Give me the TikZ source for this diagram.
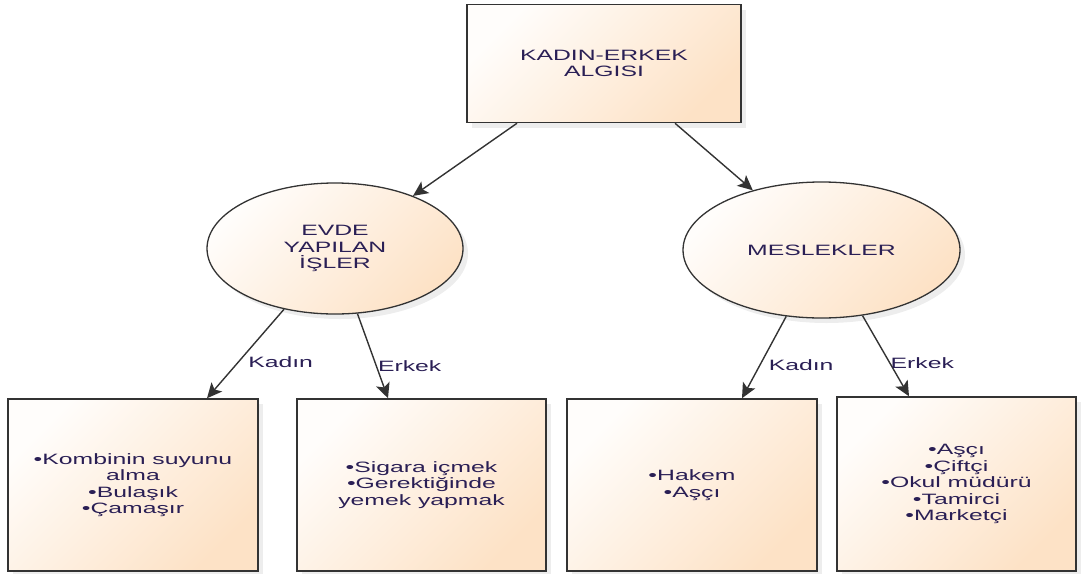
\documentclass[tikz,border=0pt]{standalone}
\usepackage{fontspec}
\setmainfont[FakeStretch=1.65]{Liberation Sans}
\usetikzlibrary{arrows.meta,positioning,shapes.geometric,shadows}
\definecolor{kaPeach}{HTML}{FDE2C6}
\definecolor{kaCream}{HTML}{FFFDFB}
\definecolor{kaInk}{HTML}{2A1F55}
\definecolor{kaLine}{HTML}{333333}
\tikzset{
  kaArrow/.style={-{Stealth[length=15pt,width=14pt,inset=3.5pt]}, line width=1.4pt, draw=kaLine},
  kaShade/.style={
    top color=kaCream,
    bottom color=kaPeach,
    shading angle=45,
    drop shadow={shadow xshift=5pt, shadow yshift=-5pt, fill=black, opacity=0.07}
  },
  kaBox/.style={
    rectangle,
    kaShade,
    draw=kaLine,
    line width=1.5pt,
    align=center,
    text=kaInk,
    inner sep=0pt
  },
  kaOval/.style={
    ellipse,
    kaShade,
    draw=kaLine,
    line width=1.3pt,
    align=center,
    text=kaInk,
    inner sep=0pt
  },
  kaLabel/.style={text=kaInk, inner sep=0pt, anchor=west}
}
\begin{document}
\begin{tikzpicture}[x=1pt, y=1pt, font=\fontsize{15}{16.5}\selectfont]
  \useasboundingbox (0,0) rectangle (1081,-573);

  % top level
  \node[kaBox, minimum width=274, minimum height=118] (algi) at (604,-63.5) {KADIN-ERKEK\\ALGISI};

  % second level
  \node[kaOval, minimum width=256, minimum height=131] (evde) at (335,-248.5) {EVDE\\YAPILAN\\İŞLER};
  \node[kaOval, minimum width=277, minimum height=136] (meslek) at (821.5,-250) {MESLEKLER};

  % leaves
  \node[kaBox, minimum width=250, minimum height=172] (evKadin) at (133,-485) {•Kombinin suyunu\\alma\\•Bulaşık\\•Çamaşır};
  \node[kaBox, minimum width=249, minimum height=172] (evErkek) at (421.5,-485) {•Sigara içmek\\•Gerektiğinde\\yemek yapmak};
  \node[kaBox, minimum width=250, minimum height=172] (isKadin) at (692,-485) {•Hakem\\•Aşçı};
  \node[kaBox, minimum width=239, minimum height=174] (isErkek) at (956.5,-484) {•Aşçı\\•Çiftçi\\•Okul müdürü\\•Tamirci\\•Marketçi};

  \draw[kaArrow] ([xshift=-87pt]algi.south) -- (evde.34);
  \draw[kaArrow] ([xshift=71pt]algi.south) -- (meslek.139);

  \draw[kaArrow] (evde.230) -- node[kaLabel, pos=0.59, xshift=9pt] (lblEvK) {Kadın} ([xshift=74pt]evKadin.north);
  \draw[kaArrow] (evde.289) -- node[kaLabel, pos=0.62, xshift=1pt] (lblEvE) {Erkek} ([xshift=-33.5pt]evErkek.north);
  \draw[kaArrow] (meslek.242) -- node[kaLabel, pos=0.59, xshift=8pt] (lblIsK) {Kadın} ([xshift=50pt]isKadin.north);
  \draw[kaArrow] (meslek.302) -- node[kaLabel, pos=0.59, xshift=0pt] (lblIsE) {Erkek} ([xshift=-47.5pt]isErkek.north);
\end{tikzpicture}
\end{document}
